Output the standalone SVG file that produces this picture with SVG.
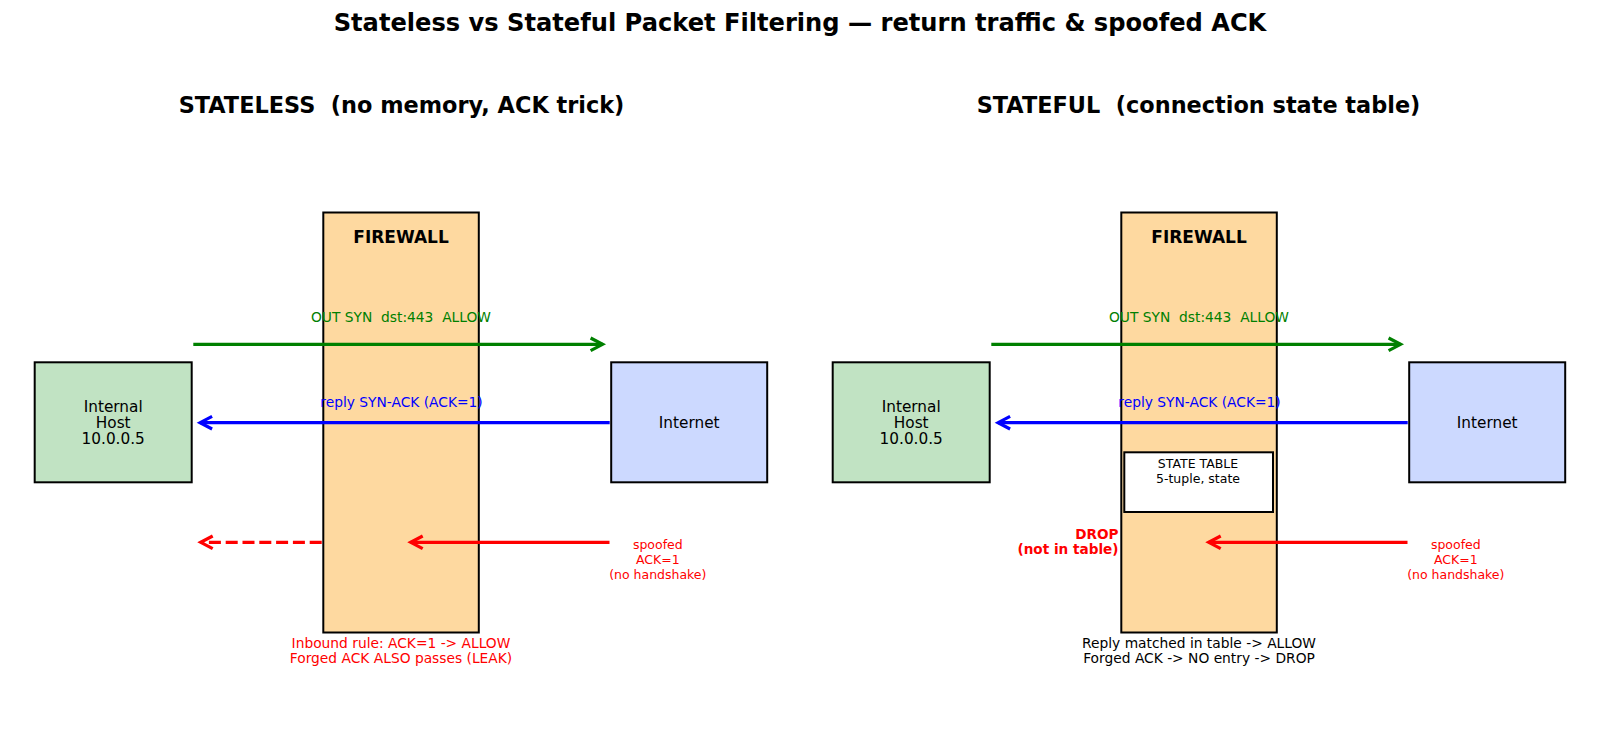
<svg xmlns="http://www.w3.org/2000/svg" width="1600" height="735" viewBox="0 0 1600 735">
<defs>
<style>
text{font-family:"DejaVu Sans","Liberation Sans",sans-serif;text-anchor:middle}
.title{font-size:24.15px;font-weight:bold}
.sub{font-size:22.4px;font-weight:bold}
.box{stroke:#000;stroke-width:2}
.host{fill:#c1e3c3}
.inet{fill:#ccd9ff}
.fw{fill:#fed9a0}
.tbl{fill:#fff;stroke:#000;stroke-width:2}
.lbl{font-size:15.3px}
.fwl{font-size:17px;font-weight:bold}
.al{font-size:13.8px}
.sm{font-size:12.5px}
.drop{font-size:13.6px;font-weight:bold;fill:red;text-anchor:end}
.arr{fill:none;stroke-width:3.2}
.g{stroke:green}.b{stroke:blue}.r{stroke:red}
.dash{stroke-dasharray:12 4.8}
</style>
<marker id="hg" markerUnits="userSpaceOnUse" markerWidth="30" markerHeight="30" refX="0" refY="0" orient="auto" overflow="visible"><path d="M-12,-6.3 L0,0 L-12,6.3" fill="none" stroke="green" stroke-width="3.2"/></marker>
<marker id="hb" markerUnits="userSpaceOnUse" markerWidth="30" markerHeight="30" refX="0" refY="0" orient="auto" overflow="visible"><path d="M-12,-6.3 L0,0 L-12,6.3" fill="none" stroke="blue" stroke-width="3.2"/></marker>
<marker id="hr" markerUnits="userSpaceOnUse" markerWidth="30" markerHeight="30" refX="0" refY="0" orient="auto" overflow="visible"><path d="M-12,-6.3 L0,0 L-12,6.3" fill="none" stroke="red" stroke-width="3.2"/></marker>
</defs>
<rect width="1600" height="735" fill="#fff"/>
<text class="title" x="800" y="31">Stateless vs Stateful Packet Filtering — return traffic &amp; spoofed ACK</text>
<text class="sub" x="401.5" y="113" xml:space="preserve">STATELESS  (no memory, ACK trick)</text>
<text class="sub" x="1198.5" y="113" xml:space="preserve">STATEFUL  (connection state table)</text>

<g id="firewall-stateless">
<rect class="box fw" x="323.3" y="212.5" width="155.5" height="420"/>
<text class="fwl" x="401" y="243">FIREWALL</text>
</g>
<g id="host-stateless">
<rect class="box host" x="34.7" y="362.3" width="157" height="120"/>
<text class="lbl" x="113.2" y="411.7">Internal</text>
<text class="lbl" x="113.2" y="427.7">Host</text>
<text class="lbl" x="113.2" y="443.5">10.0.0.5</text>
</g>
<g id="internet-stateless">
<rect class="box inet" x="611.2" y="362.3" width="156" height="120"/>
<text class="lbl" x="689.2" y="428">Internet</text>
</g>

<g id="firewall-stateful">
<rect class="box fw" x="1121.3" y="212.5" width="155.5" height="420"/>
<text class="fwl" x="1199" y="243">FIREWALL</text>
</g>
<g id="state-table">
<rect class="tbl" x="1124.3" y="452.3" width="148.7" height="59.7"/>
<text class="sm" x="1198" y="468">STATE TABLE</text>
<text class="sm" x="1198" y="482.7">5-tuple, state</text>
</g>
<g id="host-stateful">
<rect class="box host" x="832.7" y="362.3" width="157" height="120"/>
<text class="lbl" x="911.2" y="411.7">Internal</text>
<text class="lbl" x="911.2" y="427.7">Host</text>
<text class="lbl" x="911.2" y="443.5">10.0.0.5</text>
</g>
<g id="internet-stateful">
<rect class="box inet" x="1409.2" y="362.3" width="156" height="120"/>
<text class="lbl" x="1487.2" y="428">Internet</text>
</g>

<g id="connectors">
<path class="arr g" d="M193.3,344.3 H602.6" marker-end="url(#hg)"/>
<text class="al" x="401" y="321.7" fill="green" xml:space="preserve">OUT SYN  dst:443  ALLOW</text>
<path class="arr b" d="M609.7,422.7 H200.1" marker-end="url(#hb)"/>
<text class="al" x="401.5" y="406.7" fill="blue">reply SYN-ACK (ACK=1)</text>
<path class="arr r" d="M609.5,542.3 H410.7" marker-end="url(#hr)"/>
<path class="arr r dash" d="M321.7,542.3 H200.7" marker-end="url(#hr)"/>
<g class="sm" fill="red">
<text x="657.8" y="548.5">spoofed</text>
<text x="657.8" y="563.5">ACK=1</text>
<text x="657.8" y="578.5">(no handshake)</text>
</g>
<g class="al" fill="red">
<text x="401" y="647.7">Inbound rule: ACK=1 -&gt; ALLOW</text>
<text x="401" y="663.3">Forged ACK ALSO passes (LEAK)</text>
</g>

<path class="arr g" d="M991.3,344.3 H1400.6" marker-end="url(#hg)"/>
<text class="al" x="1199" y="321.7" fill="green" xml:space="preserve">OUT SYN  dst:443  ALLOW</text>
<path class="arr b" d="M1407.7,422.7 H998.1" marker-end="url(#hb)"/>
<text class="al" x="1199.5" y="406.7" fill="blue">reply SYN-ACK (ACK=1)</text>
<path class="arr r" d="M1407.5,542.3 H1208.7" marker-end="url(#hr)"/>
<text class="drop" x="1118.5" y="539">DROP</text>
<text class="drop" x="1118.5" y="554">(not in table)</text>
<g class="sm" fill="red">
<text x="1455.8" y="548.5">spoofed</text>
<text x="1455.8" y="563.5">ACK=1</text>
<text x="1455.8" y="578.5">(no handshake)</text>
</g>
<g class="al" fill="#000">
<text x="1199" y="647.7">Reply matched in table -&gt; ALLOW</text>
<text x="1199" y="663.3">Forged ACK -&gt; NO entry -&gt; DROP</text>
</g>
</g>
</svg>
